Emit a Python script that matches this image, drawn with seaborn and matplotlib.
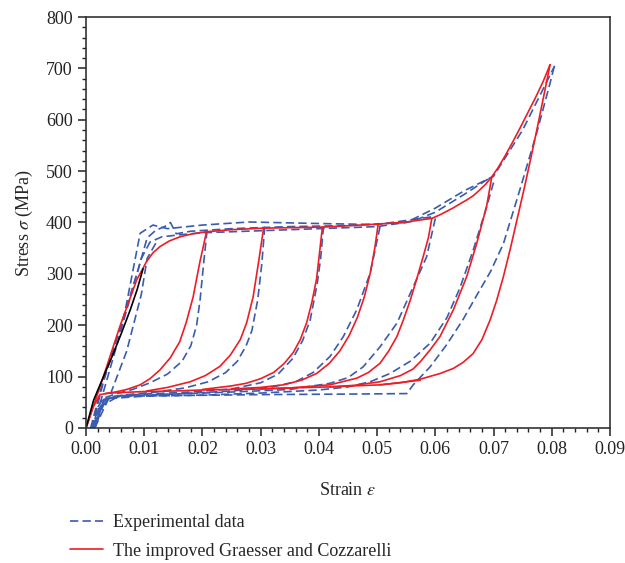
import matplotlib
matplotlib.use("Agg")
import matplotlib.pyplot as plt
from matplotlib.lines import Line2D
from matplotlib.ticker import MultipleLocator, FormatStrFormatter
import pandas as pd
import seaborn as sns

# ---- model curves (red) ----
red_load_eps = [0, 0.0024, 0.0058, 0.0087, 0.0104, 0.0115, 0.0127, 0.0143, 0.0161, 0.0183, 0.0207,
                0.025, 0.0305, 0.0355, 0.0406, 0.0455, 0.0502, 0.055, 0.0594, 0.0608, 0.063, 0.0654,
                0.0665, 0.0675, 0.0686, 0.0697, 0.0708, 0.072, 0.0733, 0.0746, 0.0759, 0.0772, 0.0785, 0.0797]
red_load_sig = [0, 80, 197, 288, 324, 341, 353, 364, 372, 378, 382,
                386, 389, 390, 391, 394, 397, 401, 408, 415, 428, 444,
                452, 462, 474, 489, 507, 530, 557, 585, 614, 643, 674, 707]

red_u02_eps = [0.0207, 0.0195, 0.0184, 0.0172, 0.0161, 0.0145, 0.0127, 0.011, 0.0093, 0.007, 0.005, 0.0033]
red_u02_sig = [382, 320, 255, 205, 168, 137, 113, 96, 84, 75, 70, 67]
red_u03_eps = [0.0305, 0.0296, 0.0287, 0.0276, 0.0265, 0.0248, 0.023, 0.0205, 0.0179, 0.014, 0.0104]
red_u03_sig = [389, 320, 255, 205, 172, 142, 120, 102, 90, 79, 72]
red_u04_eps = [0.0406, 0.0401, 0.0396, 0.0388, 0.0379, 0.0368, 0.0356, 0.034, 0.0322, 0.03, 0.0275, 0.025, 0.02]
red_u04_sig = [391, 340, 290, 245, 205, 172, 147, 125, 108, 96, 87, 82, 75]
red_u05_eps = [0.0502, 0.0496, 0.0488, 0.0478, 0.0466, 0.0452, 0.0436, 0.0418, 0.0396, 0.037, 0.0339, 0.03, 0.025]
red_u05_sig = [398, 350, 300, 255, 215, 180, 150, 126, 106, 93, 84, 79, 76]
red_u06_eps = [0.0594, 0.0588, 0.0579, 0.0568, 0.0557, 0.0545, 0.0534, 0.052, 0.0505, 0.0485, 0.0465, 0.0419, 0.035, 0.03]
red_u06_sig = [408, 370, 333, 290, 249, 210, 178, 150, 126, 108, 97, 84, 78, 76]
red_u07_eps = [0.0697, 0.0688, 0.0671, 0.0654, 0.0631, 0.0608, 0.0591, 0.0575, 0.0562, 0.054, 0.0505, 0.046, 0.0419]
red_u07_sig = [489, 431, 359, 295, 230, 178, 152, 130, 115, 102, 90, 83, 80]
red_u08_eps = [0.0797, 0.0786, 0.0775, 0.0764, 0.0752, 0.074, 0.0729, 0.0717, 0.0705, 0.0694, 0.068, 0.0665,
               0.0648, 0.0631, 0.0608, 0.0574, 0.054, 0.0505]
red_u08_sig = [707, 645, 584, 525, 463, 404, 350, 295, 247, 210, 172, 145,
               128, 116, 106, 95, 88, 84]
red_low_eps = [0.0574, 0.0505, 0.046, 0.0419, 0.035, 0.03, 0.025, 0.02, 0.015, 0.01, 0.006, 0.004, 0.0024, 0.0012, 0]
red_low_sig = [93, 84, 82, 80, 78, 76, 75, 74, 72, 71, 69, 68, 65, 40, 0]

# ---- experimental data (blue) ----
blue_l1_eps = [0.001, 0.003, 0.006, 0.009, 0.0105, 0.012, 0.0135, 0.0145, 0.0155, 0.018, 0.025, 0.035,
               0.045, 0.055, 0.06, 0.065, 0.07, 0.075, 0.0805]
blue_l1_sig = [0, 90, 200, 310, 370, 385, 392, 400, 378, 383, 388, 392,
               394, 400, 428, 462, 490, 580, 705]
blue_l2_eps = [0.0012, 0.004, 0.007, 0.0095, 0.011, 0.013, 0.016, 0.02, 0.03, 0.04, 0.05, 0.056, 0.06, 0.065, 0.0695]
blue_l2_sig = [0, 110, 230, 330, 362, 372, 376, 380, 384, 388, 392, 402, 420, 455, 488]
blue_l3_eps = [0.0008, 0.003, 0.0065, 0.0093, 0.0115, 0.014, 0.02, 0.028, 0.04, 0.05, 0.06]
blue_l3_sig = [0, 95, 215, 379, 395, 388, 395, 401, 398, 396, 412]
blue_l4_eps = [0.0015, 0.004, 0.007, 0.0095, 0.0105, 0.012]
blue_l4_sig = [0, 60, 150, 260, 330, 360]

blue_u02_eps = [0.0208, 0.0202, 0.0196, 0.019, 0.018, 0.0165, 0.014, 0.011, 0.008, 0.005, 0.003, 0.002, 0.0012]
blue_u02_sig = [385, 320, 250, 200, 160, 130, 105, 88, 75, 66, 58, 40, 0]
blue_u03_eps = [0.0307, 0.0302, 0.0295, 0.0285, 0.0275, 0.026, 0.024, 0.021, 0.017, 0.012, 0.008, 0.005, 0.003, 0.002, 0.0013]
blue_u03_sig = [392, 320, 250, 190, 160, 130, 108, 90, 78, 70, 66, 62, 55, 30, 0]
blue_u04_eps = [0.0408, 0.0403, 0.0397, 0.0385, 0.0372, 0.0355, 0.033, 0.03, 0.025, 0.018, 0.01, 0.005, 0.003, 0.0015]
blue_u04_sig = [393, 330, 280, 210, 170, 135, 105, 88, 76, 70, 66, 62, 52, 0]
blue_u05_eps = [0.0505, 0.0488, 0.0465, 0.0442, 0.0419, 0.039, 0.036, 0.032, 0.025, 0.015, 0.008, 0.004, 0.0025, 0.0015]
blue_u05_sig = [392, 301, 230, 178, 139, 108, 90, 80, 72, 66, 62, 58, 40, 0]
blue_u06_eps = [0.06, 0.0585, 0.0557, 0.0534, 0.0505, 0.0476, 0.045, 0.0419, 0.035, 0.025, 0.015, 0.006, 0.003, 0.0015]
blue_u06_sig = [408, 333, 262, 204, 158, 119, 98, 87, 75, 70, 66, 63, 55, 0]
blue_u07_eps = [0.07, 0.0688, 0.0665, 0.0642, 0.062, 0.0591, 0.0557, 0.0522, 0.0488, 0.045, 0.04, 0.03, 0.02,
                0.01, 0.005, 0.003, 0.0015]
blue_u07_sig = [478, 430, 346, 272, 215, 165, 130, 106, 90, 80, 74, 68, 64,
                62, 58, 45, 0]
blue_u08_eps = [0.0804, 0.0797, 0.0774, 0.0745, 0.0717, 0.0695, 0.0671, 0.0648, 0.062, 0.0591, 0.0562, 0.0551,
                0.045, 0.03, 0.015, 0.006, 0.003, 0.0015]
blue_u08_sig = [703, 671, 574, 463, 359, 305, 258, 212, 163, 119, 84, 67,
                66, 65, 63, 62, 52, 0]

black_eps = [0, 0.0013, 0.003, 0.0047, 0.0062, 0.0076, 0.0088, 0.0098]
black_sig = [0, 54, 100, 145, 188, 230, 270, 310]

model_label = "The improved Graesser and Cozzarelli"
exp_label = "Experimental data"

red_curves = {
    "r_load": (red_load_eps, red_load_sig), "r_u02": (red_u02_eps, red_u02_sig),
    "r_u03": (red_u03_eps, red_u03_sig), "r_u04": (red_u04_eps, red_u04_sig),
    "r_u05": (red_u05_eps, red_u05_sig), "r_u06": (red_u06_eps, red_u06_sig),
    "r_u07": (red_u07_eps, red_u07_sig), "r_u08": (red_u08_eps, red_u08_sig),
    "r_low": (red_low_eps, red_low_sig),
}
blue_curves = {
    "b_l1": (blue_l1_eps, blue_l1_sig), "b_l2": (blue_l2_eps, blue_l2_sig),
    "b_l3": (blue_l3_eps, blue_l3_sig), "b_l4": (blue_l4_eps, blue_l4_sig),
    "b_u02": (blue_u02_eps, blue_u02_sig), "b_u03": (blue_u03_eps, blue_u03_sig),
    "b_u04": (blue_u04_eps, blue_u04_sig), "b_u05": (blue_u05_eps, blue_u05_sig),
    "b_u06": (blue_u06_eps, blue_u06_sig), "b_u07": (blue_u07_eps, blue_u07_sig),
    "b_u08": (blue_u08_eps, blue_u08_sig),
}

rows = []
for kind, curves in [(exp_label, blue_curves), (model_label, red_curves)]:
    for name, (e, s) in curves.items():
        for x, y in zip(e, s):
            rows.append({"curve": name, "kind": kind, "strain": x, "stress": y})
df = pd.DataFrame(rows)

sns.set_style("ticks")
plt.rcParams['font.family'] = ['Liberation Serif', 'DejaVu Serif']
plt.rcParams['mathtext.fontset'] = 'stix'

blue = "#3a5cae"
red = "#ee1c25"

fig = plt.figure(figsize=(6.25, 5.63), dpi=100)
ax = fig.add_axes([86 / 625, 1 - 428 / 563, 524 / 625, 411 / 563])

# blue dashed experiment, red solid model
sns.lineplot(data=df, x="strain", y="stress", units="curve", estimator=None, sort=False,
             hue="kind", style="kind",
             palette={exp_label: blue, model_label: red},
             dashes={exp_label: (5, 2.5), model_label: ""},
             linewidth=1.2, legend=False, ax=ax)
ax.plot(black_eps, black_sig, color="black", lw=1.2)

ax.set_xlim(0, 0.09)
ax.set_ylim(0, 800)
ax.xaxis.set_major_locator(MultipleLocator(0.01))
ax.xaxis.set_minor_locator(MultipleLocator(0.002))
ax.xaxis.set_major_formatter(FormatStrFormatter("%.2f"))
ax.yaxis.set_major_locator(MultipleLocator(100))
ax.yaxis.set_minor_locator(MultipleLocator(20))
ax.tick_params(which="major", direction="out", length=6, width=1.1, labelsize=13, colors="#222222")
ax.tick_params(which="minor", direction="out", length=3, width=1.0, colors="#222222")
for sp in ax.spines.values():
    sp.set_visible(True)
    sp.set_linewidth(1.2)
    sp.set_color("#333333")

ax.set_xlabel(r"Strain $\varepsilon$", fontsize=13, labelpad=17)
ax.set_ylabel(r"Stress $\sigma$ (MPa)", fontsize=13, labelpad=8)

handles = [Line2D([], [], color=blue, lw=1.2, ls=(0, (5, 2.5))),
           Line2D([], [], color=red, lw=1.2)]
fig.legend(handles, [exp_label, model_label], loc="upper left",
           bbox_to_anchor=(70 / 625, 1 - 514 / 563), frameon=False, fontsize=13,
           handlelength=1.8, handletextpad=0.6, labelspacing=0.65, borderpad=0, borderaxespad=0)

fig.savefig("out.png", dpi=100)
